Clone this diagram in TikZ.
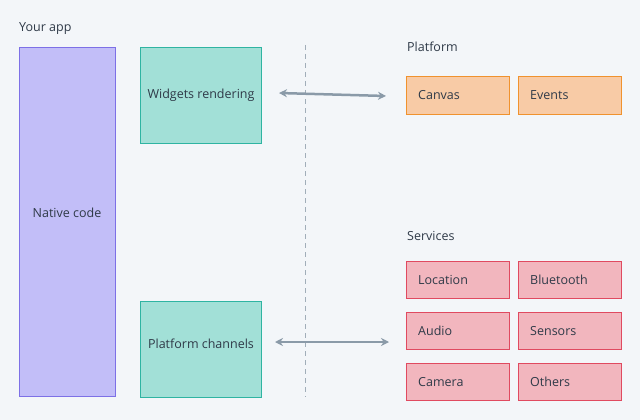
\documentclass[tikz,border=0pt]{standalone}
\usepackage{fontspec}
\setmainfont{Open Sans}
\usetikzlibrary{arrows.meta}
\begin{document}
\begin{tikzpicture}[x=1pt,y=-1pt,
  every node/.style={font=\fontsize{12.5}{14}\selectfont,text=txt},
  box/.style={draw,line width=1pt,anchor=north west,inner sep=0pt},
  app/.style={box,fill=appf,draw=appd},
  fl/.style={box,fill=flf,draw=fld},
  pl/.style={box,fill=plf,draw=pld,minimum width=103,minimum height=38},
  sv/.style={box,fill=svf,draw=svd,minimum width=103,minimum height=37},
  lbl/.style={anchor=west,inner sep=0pt},
  arr/.style={<->,>={Stealth[length=8pt,width=8pt]},line width=2.5pt,draw=arc}]
\definecolor{bg}{HTML}{F3F6F9}
\definecolor{txt}{HTML}{2F3A48}
\definecolor{appf}{HTML}{C2BEF8}\definecolor{appd}{HTML}{7D70E6}
\definecolor{flf}{HTML}{A2E0D7}\definecolor{fld}{HTML}{2FB4A2}
\definecolor{plf}{HTML}{F8CBA6}\definecolor{pld}{HTML}{F0922E}
\definecolor{svf}{HTML}{F2B6BE}\definecolor{svd}{HTML}{E04A60}
\definecolor{arc}{HTML}{8A9AA8}
\fill[bg] (0,0) rectangle (640,420);
\useasboundingbox (0,0) rectangle (640,420);
\node[lbl] (ya) at (19,29) {Your app};
\node[app,minimum width=96,minimum height=349] (nc) at (19,47) {};
\node at (67,213) {Native code};
\node[fl,minimum width=121,minimum height=96] (wr) at (140,47) {};
\node at (201,95) {Widgets rendering};
\node[fl,minimum width=121,minimum height=96] (pc) at (140,301) {};
\node at (201,344) {Platform channels};
\coordinate (d1) at (305,45); \coordinate (d2) at (305,397);
\draw[arc!80,line width=0.8pt,dash pattern=on 5pt off 4pt] (d1) -- (d2);
\node[lbl] (pt) at (407,47) {Platform};
\node[pl] (cv) at (406,76) {}; \node[lbl] at (418,95) {Canvas};
\node[pl] (ev) at (518,76) {}; \node[lbl] at (530,95) {Events};
\node[lbl] (st) at (407,236) {Services};
\node[sv] (lo) at (406,261) {}; \node[lbl] at (418,280) {Location};
\node[sv] (bt) at (518,261) {}; \node[lbl] at (530,280) {Bluetooth};
\node[sv] (au) at (406,312) {}; \node[lbl] at (418,331) {Audio};
\node[sv] (se) at (518,312) {}; \node[lbl] at (530,331) {Sensors};
\node[sv] (ca) at (406,363) {}; \node[lbl] at (418,382) {Camera};
\node[sv] (ot) at (518,363) {}; \node[lbl] at (530,382) {Others};
\coordinate (a1) at (279,93); \coordinate (a2) at (386,96);
\coordinate (b1) at (275,342); \coordinate (b2) at (389,342);
\draw[arr] (a1) -- (a2);
\draw[arr] (b1) -- (b2);
\end{tikzpicture}
\end{document}
